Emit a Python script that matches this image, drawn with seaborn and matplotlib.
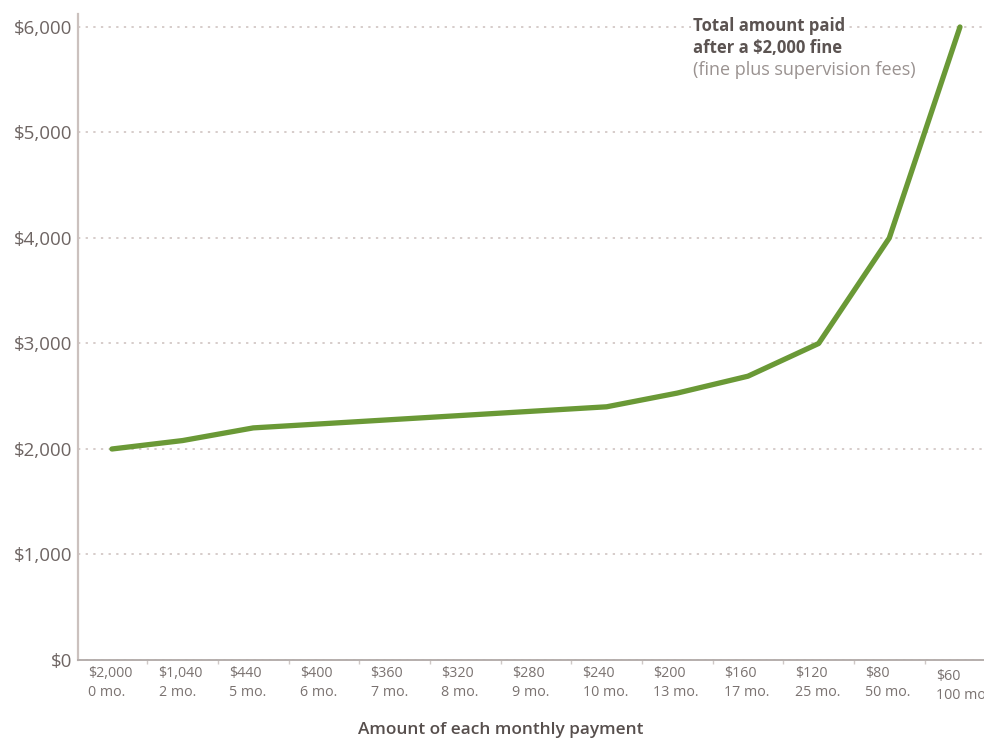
import matplotlib
matplotlib.use("Agg")
import matplotlib.pyplot as plt
import seaborn as sns
import pandas as pd
from matplotlib.transforms import ScaledTranslation

# ---- data ----
payments = ["$2,000", "$1,040", "$440", "$400", "$360", "$320", "$280",
            "$240", "$200", "$160", "$120", "$80", "$60"]
months = ["0 mo.", "2 mo.", "5 mo.", "6 mo.", "7 mo.", "8 mo.", "9 mo.",
          "10 mo.", "13 mo.", "17 mo.", "25 mo.", "50 mo.", "100 mo."]
total_paid = [2000, 2080, 2200, 2240, 2280, 2320, 2360, 2400, 2530, 2690,
              3000, 4000, 6000]
y_ticks = [0, 1000, 2000, 3000, 4000, 5000, 6000]
y_tick_labels = ["$0", "$1,000", "$2,000", "$3,000", "$4,000", "$5,000", "$6,000"]

sns.set_theme(style="white")
plt.rcParams['font.family'] = ['Open Sans', 'DejaVu Sans']

W, H = 984, 743
fig = plt.figure(figsize=(W / 100, H / 100), dpi=100)
ax = fig.add_axes([78 / W, 83 / H, 906 / W, 646 / H])

df = pd.DataFrame({"pos": list(range(len(payments))), "total": total_paid})
sns.lineplot(data=df, x="pos", y="total", ax=ax, color="#6a9936",
             linewidth=3.8, solid_capstyle="round", zorder=3)

ax.set_xlim(-0.48, 12.34)
ax.set_ylim(0, 6123)

# y axis
ax.set_yticks(y_ticks)
ax.set_yticklabels(y_tick_labels, fontsize=13.5, color="#6e6563")
ax.tick_params(axis="y", length=0, pad=4)

# x axis: labels left-aligned within each bin, small ticks at bin borders
labels = [f"{p}\n{m}" for p, m in zip(payments, months)]
ax.set_xticks(range(len(payments)))
ax.set_xticklabels(labels, fontsize=10.3, color="#7a7270", linespacing=1.4)
ax.tick_params(axis="x", which="major", length=0, pad=4)
ax.set_xticks([i + 0.5 for i in range(len(payments) - 1)], minor=True)
ax.tick_params(axis="x", which="minor", length=3, width=1, color="#cfc8c6",
               direction="out", bottom=True)
for i, lbl in enumerate(ax.get_xticklabels()):
    lbl.set_horizontalalignment("left")
    dy = -3 / 100 if i == len(payments) - 1 else 0
    lbl.set_transform(lbl.get_transform() +
                      ScaledTranslation(-24 / 100, dy, fig.dpi_scale_trans))

ax.set_xlabel("Amount of each monthly payment", fontsize=12.4, color="#574f4d",
              fontweight="semibold")
ax.xaxis.set_label_coords((501 - 78) / 906, (660 - 722) / 646)
ax.set_ylabel("")

# grid
ax.grid(axis="y", color="#cbbfbc", linestyle=(0, (1.5, 3.5)), linewidth=1.1)
ax.grid(axis="x", visible=False)
ax.set_axisbelow(True)

for s in ["top", "right"]:
    ax.spines[s].set_visible(False)
ax.spines["left"].set_color("#cbc1be")
ax.spines["left"].set_linewidth(1.6)
ax.spines["bottom"].set_color("#b5aeac")
ax.spines["bottom"].set_linewidth(1.4)

# annotation
fig.text(693 / W, 1 - 17 / H, "Total amount paid\nafter a $2,000 fine",
         fontsize=12, fontweight="bold", color="#5b5351", va="top",
         ha="left", linespacing=1.3, family=['Open Sans', 'DejaVu Sans'],
         bbox=dict(facecolor="white", edgecolor="none", pad=1.5), zorder=5)
fig.text(693 / W, 1 - 61 / H, "(fine plus supervision fees)",
         fontsize=13, color="#9a9290", va="top", ha="left",
         family=['Open Sans', 'DejaVu Sans'])

fig.savefig("out.png", dpi=100, facecolor="white")
